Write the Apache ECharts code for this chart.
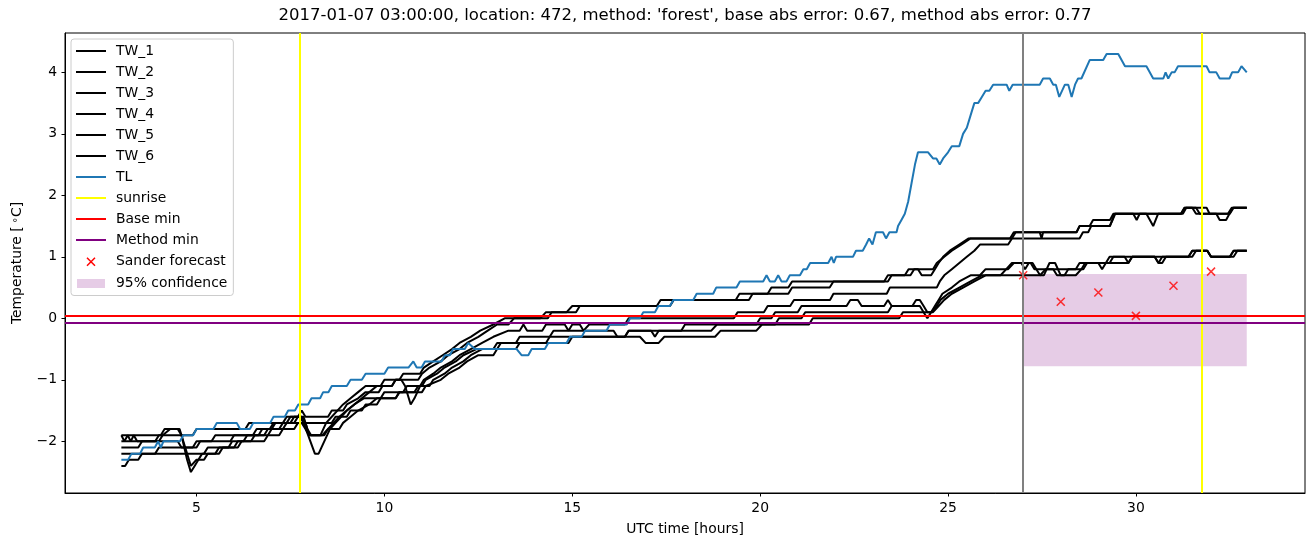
<!DOCTYPE html>
<html><head><meta charset="utf-8">
<script src="https://cdn.jsdelivr.net/npm/echarts@6/dist/echarts.min.js"></script>
<style>html,body{margin:0;padding:0;background:#fff}#c{width:1313px;height:547px}</style>
</head><body><div id="c"></div>
<script>
const TW_1 = [[3.0,-1.9],[4.05,-1.9],[4.15,-1.8],[4.5,-1.8],[4.6,-1.9],[4.75,-2.3],[4.85,-2.5],[4.95,-2.4],[5.05,-2.3],[5.15,-2.2],[5.5,-2.2],[5.6,-2.1],[5.85,-2.1],[5.95,-2.0],[6.25,-2.0],[6.35,-1.9],[6.65,-1.9],[6.75,-1.8],[7.0,-1.8],[7.1,-1.7],[7.4,-1.7],[7.5,-1.6],[7.8,-1.6],[7.9,-1.7],[8.0,-1.9],[8.3,-1.9],[8.45,-1.7],[8.6,-1.6],[8.75,-1.5],[8.9,-1.4],[9.1,-1.3],[9.3,-1.2],[9.5,-1.1],[9.9,-1.1],[10.0,-1.0],[10.4,-1.0],[10.5,-0.9],[10.95,-0.9],[11.05,-0.8],[11.3,-0.7],[11.55,-0.6],[11.8,-0.5],[12.0,-0.4],[12.3,-0.3],[12.55,-0.2],[12.9,-0.1],[13.2,0.0],[14.15,0.0],[14.3,0.1],[14.85,0.1],[15.0,0.2],[17.25,0.2],[17.35,0.3],[19.35,0.3],[19.45,0.4],[20.2,0.4],[20.3,0.5],[20.75,0.5],[20.85,0.6],[23.3,0.6],[23.4,0.7],[23.85,0.7],[23.95,0.8],[24.2,0.8],[24.3,0.7],[24.55,0.7],[24.65,0.8],[24.75,0.9],[24.87,1.0],[25.05,1.1],[25.3,1.2],[25.55,1.3],[26.65,1.3],[26.75,1.4],[27.44,1.4],[27.49,1.3],[27.53,1.4],[28.42,1.4],[28.5,1.5],[28.77,1.5],[28.86,1.6],[29.31,1.6],[29.4,1.7],[29.93,1.7],[30.02,1.6],[30.1,1.7],[30.28,1.7],[30.46,1.5],[30.59,1.7],[31.25,1.7],[31.34,1.8],[31.88,1.8],[31.96,1.7],[32.14,1.7],[32.23,1.6],[32.4,1.6],[32.49,1.7],[32.58,1.8],[32.95,1.8]];
const TW_2 = [[3.0,-1.9],[3.08,-2.0],[3.17,-1.9],[3.25,-2.0],[3.33,-1.9],[3.42,-2.0],[4.0,-2.0],[4.1,-1.9],[4.3,-1.8],[4.55,-1.8],[4.7,-2.1],[4.85,-2.4],[5.0,-2.3],[5.2,-2.3],[5.3,-2.2],[5.6,-2.2],[5.7,-2.1],[6.0,-2.1],[6.1,-2.0],[6.45,-2.0],[6.55,-1.9],[6.9,-1.9],[7.0,-1.8],[7.3,-1.8],[7.4,-1.7],[7.6,-1.7],[7.7,-1.6],[7.85,-1.6],[7.95,-1.8],[8.05,-1.9],[8.35,-1.9],[8.5,-1.8],[8.65,-1.7],[8.8,-1.6],[9.0,-1.5],[9.2,-1.4],[9.4,-1.3],[9.6,-1.2],[9.8,-1.1],[10.2,-1.1],[10.3,-1.0],[10.9,-1.0],[11.0,-0.9],[11.2,-0.8],[11.5,-0.7],[11.7,-0.6],[12.0,-0.5],[12.2,-0.4],[12.5,-0.3],[12.75,-0.2],[13.0,-0.1],[13.3,-0.1],[13.45,0.0],[14.35,0.0],[14.45,0.1],[15.1,0.1],[15.2,0.2],[17.6,0.2],[17.7,0.3],[19.7,0.3],[19.8,0.4],[20.75,0.4],[20.85,0.5],[21.85,0.5],[21.95,0.6],[23.4,0.6],[23.5,0.7],[24.0,0.7],[24.1,0.8],[24.6,0.8],[24.7,0.9],[24.9,1.0],[25.1,1.1],[25.35,1.2],[25.6,1.3],[26.7,1.3],[26.8,1.4],[28.42,1.4],[28.5,1.5],[29.3,1.5],[29.38,1.6],[29.45,1.7],[31.2,1.7],[31.3,1.8],[31.5,1.8],[31.6,1.7],[32.45,1.7],[32.55,1.8],[32.95,1.8]];
const TW_3 = [[3.0,-2.0],[3.9,-2.0],[4.0,-1.9],[4.9,-1.9],[5.0,-1.8],[6.3,-1.8],[6.4,-1.7],[7.3,-1.7],[7.4,-1.6],[7.7,-1.6],[7.8,-1.5],[7.9,-1.6],[8.5,-1.6],[8.6,-1.5],[8.9,-1.5],[9.0,-1.4],[9.3,-1.3],[9.5,-1.2],[9.85,-1.2],[9.95,-1.1],[10.2,-1.1],[10.3,-1.0],[10.45,-1.0],[10.55,-1.1],[10.7,-1.4],[10.8,-1.3],[10.95,-1.1],[11.05,-1.0],[11.3,-0.9],[11.5,-0.8],[11.8,-0.7],[12.0,-0.6],[12.3,-0.5],[12.6,-0.4],[12.9,-0.3],[13.3,-0.2],[13.6,-0.2],[13.7,-0.1],[13.8,-0.2],[14.2,-0.2],[14.3,-0.1],[14.8,-0.1],[14.9,-0.2],[15.0,-0.1],[15.2,-0.1],[15.3,-0.2],[15.45,-0.1],[16.4,-0.1],[16.5,0.0],[19.3,0.0],[19.4,0.1],[20.1,0.1],[20.2,0.2],[20.8,0.2],[20.9,0.3],[21.86,0.3],[21.95,0.4],[23.37,0.4],[23.45,0.5],[24.7,0.5],[24.78,0.6],[24.9,0.7],[25.1,0.8],[25.3,0.9],[25.5,1.0],[25.7,1.1],[25.85,1.2],[26.6,1.2],[26.7,1.3],[28.5,1.3],[28.59,1.4],[28.73,1.4],[28.81,1.5],[29.31,1.5],[29.43,1.7],[31.2,1.7],[31.29,1.8],[31.6,1.8],[31.7,1.7],[32.5,1.7],[32.6,1.8],[32.95,1.8]];
const TW_4 = [[3.0,-2.1],[3.45,-2.1],[3.55,-2.0],[4.5,-2.0],[4.6,-2.1],[4.9,-2.1],[5.0,-2.0],[5.4,-2.0],[5.5,-1.9],[6.5,-1.9],[6.6,-1.8],[6.95,-1.8],[7.05,-1.7],[7.5,-1.7],[7.6,-1.6],[7.75,-1.6],[7.85,-1.7],[8.15,-2.2],[8.25,-2.2],[8.55,-1.8],[8.7,-1.7],[8.85,-1.6],[9.0,-1.5],[9.2,-1.4],[9.45,-1.3],[9.9,-1.3],[10.0,-1.2],[10.5,-1.2],[10.6,-1.1],[11.0,-1.1],[11.1,-1.0],[11.4,-0.9],[11.6,-0.8],[11.9,-0.7],[12.1,-0.6],[12.45,-0.5],[12.9,-0.5],[13.0,-0.4],[13.5,-0.4],[13.6,-0.3],[14.4,-0.3],[14.5,-0.2],[16.1,-0.2],[16.2,-0.3],[16.4,-0.3],[16.5,-0.2],[17.1,-0.2],[17.2,-0.3],[17.3,-0.2],[17.9,-0.2],[18.0,-0.1],[19.9,-0.1],[20.0,0.0],[20.3,0.0],[20.4,0.1],[21.0,0.1],[21.1,0.2],[22.3,0.2],[22.4,0.3],[22.6,0.3],[22.7,0.2],[23.3,0.2],[23.4,0.3],[23.5,0.2],[24.05,0.2],[24.15,0.3],[24.25,0.3],[24.35,0.2],[24.45,0.1],[24.55,0.1],[24.65,0.2],[24.75,0.3],[24.85,0.4],[25.1,0.5],[25.3,0.6],[25.6,0.7],[25.85,0.7],[26.0,0.8],[26.6,0.8],[26.75,0.9],[26.95,0.9],[27.05,0.8],[27.15,0.9],[27.25,0.9],[27.35,0.8],[27.45,0.7],[27.55,0.7],[27.7,0.9],[27.85,0.9],[28.0,0.7],[28.4,0.7],[28.55,0.8],[28.65,0.9],[29.0,0.9],[29.1,0.8],[29.2,0.9],[29.3,0.9],[29.4,1.0],[29.7,1.0],[29.8,0.9],[29.9,1.0],[30.5,1.0],[30.6,0.9],[30.7,0.9],[30.8,1.0],[31.4,1.0],[31.5,1.1],[31.9,1.1],[32.0,1.0],[32.5,1.0],[32.6,1.1],[32.95,1.1]];
const TW_5 = [[3.0,-2.2],[3.9,-2.2],[4.0,-2.1],[5.0,-2.1],[5.1,-2.0],[5.9,-2.0],[6.0,-1.9],[6.8,-1.9],[6.9,-1.8],[7.2,-1.8],[7.3,-1.7],[7.8,-1.7],[7.9,-1.8],[8.0,-1.9],[8.4,-1.9],[8.5,-1.8],[8.8,-1.8],[8.9,-1.7],[9.1,-1.6],[9.3,-1.5],[9.6,-1.4],[9.8,-1.3],[10.3,-1.3],[10.4,-1.2],[10.8,-1.2],[10.9,-1.1],[11.2,-1.1],[11.3,-1.0],[11.6,-0.9],[11.8,-0.8],[12.1,-0.7],[12.3,-0.6],[12.6,-0.5],[13.0,-0.5],[13.1,-0.4],[14.3,-0.4],[14.4,-0.3],[16.8,-0.3],[16.95,-0.4],[17.3,-0.4],[17.45,-0.3],[18.8,-0.3],[18.95,-0.2],[19.9,-0.2],[20.05,-0.1],[20.4,-0.1],[20.5,0.0],[21.1,0.0],[21.2,0.1],[23.4,0.1],[23.5,0.2],[24.25,0.2],[24.35,0.1],[24.45,0.0],[24.55,0.1],[24.7,0.2],[24.8,0.3],[25.0,0.4],[25.3,0.5],[25.6,0.6],[25.9,0.7],[26.4,0.7],[26.55,0.8],[26.7,0.9],[27.2,0.9],[27.3,0.8],[27.8,0.8],[27.9,0.7],[28.1,0.7],[28.2,0.8],[28.4,0.8],[28.5,0.9],[29.2,0.9],[29.3,1.0],[30.5,1.0],[30.6,0.9],[30.7,1.0],[31.4,1.0],[31.5,1.1],[31.9,1.1],[32.0,1.0],[32.5,1.0],[32.6,1.1],[32.95,1.1]];
const TW_6 = [[3.0,-2.4],[3.1,-2.4],[3.2,-2.3],[3.45,-2.3],[3.55,-2.2],[5.2,-2.2],[5.3,-2.1],[6.1,-2.1],[6.2,-2.0],[6.8,-2.0],[6.9,-1.9],[7.2,-1.9],[7.3,-1.8],[7.6,-1.8],[7.7,-1.7],[8.6,-1.7],[8.7,-1.6],[9.0,-1.6],[9.1,-1.5],[9.4,-1.5],[9.5,-1.4],[9.8,-1.4],[9.9,-1.3],[10.3,-1.3],[10.4,-1.2],[11.0,-1.2],[11.1,-1.1],[11.5,-1.0],[11.7,-0.9],[12.0,-0.8],[12.2,-0.7],[12.5,-0.6],[12.9,-0.6],[13.0,-0.5],[13.5,-0.5],[13.6,-0.4],[14.9,-0.4],[15.0,-0.3],[16.4,-0.3],[16.5,-0.2],[18.7,-0.2],[18.85,-0.1],[21.3,-0.1],[21.4,0.0],[23.7,0.0],[23.8,0.1],[24.6,0.1],[24.75,0.2],[24.9,0.3],[25.1,0.4],[25.4,0.5],[25.7,0.6],[26.0,0.7],[27.45,0.7],[27.6,0.8],[28.6,0.8],[28.7,0.9],[29.8,0.9],[29.9,1.0],[31.5,1.0],[31.6,1.1],[31.9,1.1],[32.0,1.0],[32.6,1.0],[32.7,1.1],[32.95,1.1]];
const TL = [[3.0,-2.3],[3.18,-2.3],[3.27,-2.2],[3.5,-2.2],[3.58,-2.1],[3.89,-2.1],[3.98,-2.0],[4.05,-2.1],[4.12,-2.0],[4.56,-2.0],[4.65,-1.9],[4.91,-1.9],[5.0,-1.8],[5.45,-1.8],[5.54,-1.7],[6.07,-1.7],[6.16,-1.8],[6.42,-1.8],[6.51,-1.7],[6.96,-1.7],[7.05,-1.6],[7.35,-1.6],[7.44,-1.5],[7.62,-1.5],[7.71,-1.4],[7.97,-1.4],[8.06,-1.3],[8.29,-1.3],[8.37,-1.2],[8.51,-1.2],[8.6,-1.1],[9.0,-1.1],[9.1,-1.0],[9.4,-1.0],[9.5,-0.9],[10.0,-0.9],[10.1,-0.8],[10.64,-0.8],[10.77,-0.7],[10.86,-0.8],[10.99,-0.8],[11.08,-0.7],[11.52,-0.7],[11.61,-0.6],[11.74,-0.6],[11.83,-0.5],[12.14,-0.5],[12.23,-0.4],[12.41,-0.5],[13.52,-0.5],[13.65,-0.6],[13.83,-0.6],[13.92,-0.5],[14.27,-0.5],[14.36,-0.4],[14.85,-0.4],[14.94,-0.3],[15.25,-0.3],[15.34,-0.2],[15.91,-0.2],[16.0,-0.1],[16.45,-0.1],[16.54,0.0],[16.8,0.0],[16.89,0.1],[17.2,0.1],[17.29,0.2],[17.6,0.2],[17.69,0.3],[18.22,0.3],[18.31,0.4],[18.75,0.4],[18.83,0.5],[19.37,0.5],[19.46,0.6],[20.08,0.6],[20.17,0.7],[20.26,0.6],[20.39,0.6],[20.48,0.7],[20.57,0.6],[20.7,0.6],[20.79,0.7],[21.06,0.7],[21.15,0.8],[21.24,0.8],[21.33,0.9],[21.81,0.9],[21.9,1.0],[21.96,0.9],[22.02,1.0],[22.47,1.0],[22.55,1.1],[22.73,1.1],[22.82,1.2],[22.9,1.3],[22.99,1.2],[23.08,1.4],[23.27,1.4],[23.35,1.3],[23.44,1.4],[23.63,1.4],[23.67,1.5],[23.76,1.6],[23.85,1.7],[23.94,1.9],[24.03,2.2],[24.12,2.5],[24.2,2.7],[24.47,2.7],[24.6,2.6],[24.69,2.6],[24.78,2.5],[24.87,2.6],[25.0,2.7],[25.1,2.8],[25.3,2.8],[25.4,3.0],[25.5,3.1],[25.6,3.3],[25.7,3.5],[25.8,3.5],[25.9,3.6],[26.0,3.7],[26.1,3.7],[26.2,3.8],[26.56,3.8],[26.63,3.7],[26.72,3.8],[27.44,3.8],[27.53,3.9],[27.71,3.9],[27.8,3.8],[27.87,3.8],[27.96,3.6],[28.11,3.8],[28.2,3.8],[28.29,3.6],[28.38,3.8],[28.46,3.9],[28.55,3.9],[28.77,4.2],[29.13,4.2],[29.22,4.3],[29.53,4.3],[29.71,4.1],[30.28,4.1],[30.46,3.9],[30.73,3.9],[30.79,4.0],[30.86,3.9],[30.95,4.0],[31.03,4.0],[31.12,4.1],[31.88,4.1],[31.96,4.0],[32.14,4.0],[32.23,3.9],[32.49,3.9],[32.56,4.0],[32.72,4.0],[32.81,4.1],[32.95,4.0]];
const sunriseTimes = [7.75, 31.74];
const forecastStart = 27;
const baseMin = 0.04;
const methodMin = -0.07;
const forecastHours = [27, 28, 29, 30, 31, 32];
const forecastValues = [0.70, 0.27, 0.42, 0.04, 0.53, 0.76];
const confidenceX = [27, 32.95];
const confidenceY = [-0.78, 0.72];
const xTicks = [5, 10, 15, 20, 25, 30];
const yTicks = [-2, -1, 0, 1, 2, 3, 4];
const twNames = ['TW_1','TW_2','TW_3','TW_4','TW_5','TW_6'];
const twData = [TW_1, TW_2, TW_3, TW_4, TW_5, TW_6];

const FONT = 'DejaVu Sans';
const chart = echarts.init(document.getElementById('c'), null, {renderer: 'canvas'});

const series = [];
twNames.forEach((n, i) => series.push({
  name: n, type: 'line', data: twData[i], showSymbol: false, symbol: 'none',
  color: '#000000', lineStyle: {color: '#000000', width: 2}, animation: false, silent: true
}));
series.push({name: 'TL', type: 'line', data: TL, showSymbol: false, symbol: 'none',
  color: '#1f77b4', lineStyle: {color: '#1f77b4', width: 2}, animation: false, silent: true});
function vline(name, xs, color) {
  return {name: name, type: 'line', data: [], symbol: 'none', color: color,
    lineStyle: {color: color, width: 2}, animation: false, silent: true,
    markLine: {silent: true, symbol: ['none','none'], label: {show: false}, animation: false,
      lineStyle: {color: color, width: 2, type: 'solid'},
      data: xs.map(x => ({xAxis: x}))}};
}
function hline(name, ys, color) {
  return {name: name, type: 'line', data: [], symbol: 'none', color: color,
    lineStyle: {color: color, width: 2}, animation: false, silent: true,
    markLine: {silent: true, symbol: ['none','none'], label: {show: false}, animation: false,
      lineStyle: {color: color, width: 2, type: 'solid'},
      data: ys.map(y => ({yAxis: y}))}};
}
series.push(vline('sunrise', sunriseTimes, '#ffff00'));
series.push(hline('Base min', [baseMin], '#ff0000'));
series.push(hline('Method min', [methodMin], '#800080'));
series.push(vline('forecast start', [forecastStart], '#808080'));
series.push({name: 'Sander forecast', type: 'scatter',
  data: forecastHours.map((h, i) => [h, forecastValues[i]]),
  symbol: 'path://M0,0L10,10M10,0L0,10', symbolSize: 8,
  itemStyle: {color: '#ff0000', borderColor: '#ff0000', borderWidth: 1.5},
  animation: false, silent: true, z: 4});
series.push({name: '95% confidence', type: 'line', data: [], symbol: 'none',
  color: 'rgba(128,0,128,0.2)', lineStyle: {width: 0}, animation: false, silent: true,
  markArea: {silent: true, animation: false, itemStyle: {color: 'rgba(128,0,128,0.2)'},
    data: [[{xAxis: confidenceX[0], yAxis: confidenceY[1]}, {xAxis: confidenceX[1], yAxis: confidenceY[0]}]]}});

const fmtNum = v => String(v).replace('-', '\u2212');
const lineItem = n => ({name: n, itemStyle: {opacity: 0}});
const option = {
  backgroundColor: '#ffffff',
  animation: false,
  title: {
    text: "2017-01-07 03:00:00, location: 472, method: 'forest', base abs error: 0.67, method abs error: 0.77",
    left: 685, top: 7, padding: 0, textAlign: 'center',
    textStyle: {fontFamily: FONT, fontSize: 16.5, fontWeight: 'normal', color: '#000'}
  },
  grid: {left: 65, right: 8, top: 33, bottom: 54, show: true, borderColor: '#000', borderWidth: 1, backgroundColor: 'transparent'},
  xAxis: {
    type: 'value', min: 1.5, max: 34.5,
    name: 'UTC time [hours]', nameLocation: 'middle', nameGap: 29,
    nameTextStyle: {fontFamily: FONT, fontSize: 13.9, color: '#000'},
    axisLine: {show: true, onZero: false, lineStyle: {color: '#000', width: 1}},
    axisTick: {show: true, inside: false, length: 3.5, customValues: xTicks, lineStyle: {color: '#000', width: 1}},
    axisLabel: {show: true, customValues: xTicks, margin: 8, formatter: fmtNum,
      fontFamily: FONT, fontSize: 13.9, color: '#000'},
    splitLine: {show: false}
  },
  yAxis: {
    type: 'value', min: -2.84, max: 4.64,
    name: 'Temperature [{s|\u2218}C]', nameLocation: 'middle', nameGap: 40, nameRotate: 90,
    nameTextStyle: {fontFamily: FONT, fontSize: 13.9, color: '#000',
      rich: {s: {fontFamily: FONT, fontSize: 10, color: '#000', verticalAlign: 'top', padding: [0, 0, 5, 3]}}},
    axisLine: {show: true, onZero: false, lineStyle: {color: '#000', width: 1}},
    axisTick: {show: true, inside: false, length: 3.5, customValues: yTicks, lineStyle: {color: '#000', width: 1}},
    axisLabel: {show: true, customValues: yTicks, margin: 8, formatter: fmtNum,
      fontFamily: FONT, fontSize: 13.9, color: '#000'},
    splitLine: {show: false}
  },
  legend: {
    orient: 'vertical', left: 71, top: 39, selectedMode: false,
    padding: [5, 6, 5, 4], itemWidth: 30, itemHeight: 14, itemGap: 7,
    backgroundColor: 'rgba(255,255,255,0.8)', borderColor: '#cccccc', borderWidth: 1, borderRadius: 3,
    textStyle: {fontFamily: FONT, fontSize: 13.9, color: '#000', lineHeight: 14, padding: [0, 0, 0, 5]},
    data: [
      ...twNames.map(lineItem),
      lineItem('TL'), lineItem('sunrise'), lineItem('Base min'), lineItem('Method min'),
      {name: 'Sander forecast', icon: 'path://M-9,-3.75L-9,-3.75M19,13.75L19,13.75M0,0L10,10M10,0L0,10',
        itemStyle: {color: '#ff0000', borderColor: '#ff0000', borderWidth: 1.5, opacity: 1}},
      {name: '95% confidence', icon: 'path://M-1,-2.5L-1,-2.5M29,11.5L29,11.5M0,0H28V9H0Z',
        itemStyle: {color: 'rgba(128,0,128,0.2)', borderWidth: 0, opacity: 1}}
    ]
  },
  series: series
};
chart.setOption(option);
</script>
</body></html>
